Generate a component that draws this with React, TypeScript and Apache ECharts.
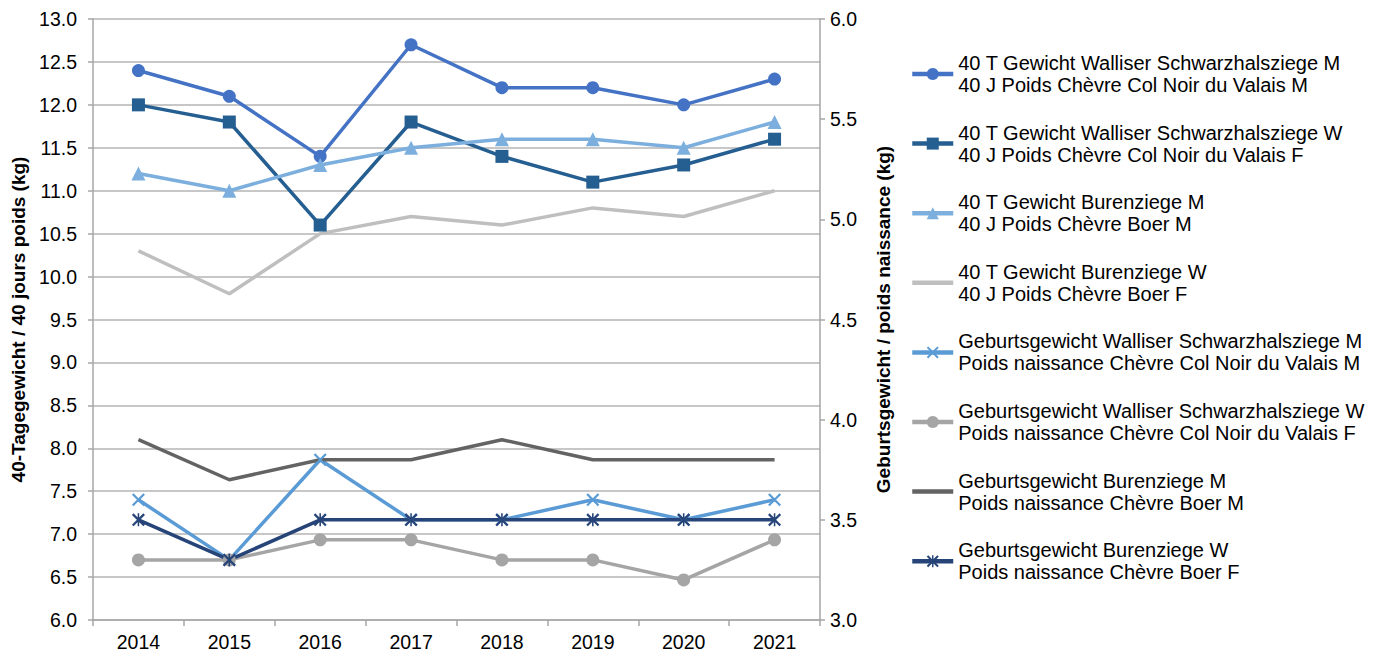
import React, { useEffect, useRef } from "react";
import * as echarts from "echarts";

const years = ["2014", "2015", "2016", "2017", "2018", "2019", "2020", "2021"];

const tg40WalliserM = [12.4, 12.1, 11.4, 12.7, 12.2, 12.2, 12.0, 12.3];
const tg40WalliserW = [12.0, 11.8, 10.6, 11.8, 11.4, 11.1, 11.3, 11.6];
const tg40BurenM = [11.2, 11.0, 11.3, 11.5, 11.6, 11.6, 11.5, 11.8];
const tg40BurenW = [10.3, 9.8, 10.5, 10.7, 10.6, 10.8, 10.7, 11.0];
const gebWalliserM = [3.6, 3.3, 3.8, 3.5, 3.5, 3.6, 3.5, 3.6];
const gebWalliserW = [3.3, 3.3, 3.4, 3.4, 3.3, 3.3, 3.2, 3.4];
const gebBurenM = [3.9, 3.7, 3.8, 3.8, 3.9, 3.8, 3.8, 3.8];
const gebBurenW = [3.5, 3.3, 3.5, 3.5, 3.5, 3.5, 3.5, 3.5];

const names = [
  "40 T Gewicht Walliser Schwarzhalsziege M\n40 J Poids Chèvre Col Noir du Valais M",
  "40 T Gewicht Walliser Schwarzhalsziege W\n40 J Poids Chèvre Col Noir du Valais F",
  "40 T Gewicht Burenziege M\n40 J Poids Chèvre Boer M",
  "40 T Gewicht Burenziege W\n40 J Poids Chèvre Boer F",
  "Geburtsgewicht Walliser Schwarzhalsziege M\nPoids naissance Chèvre Col Noir du Valais M",
  "Geburtsgewicht Walliser Schwarzhalsziege W\nPoids naissance Chèvre Col Noir du Valais F",
  "Geburtsgewicht Burenziege M\nPoids naissance Chèvre Boer M",
  "Geburtsgewicht Burenziege W\nPoids naissance Chèvre Boer F",
];

const leftAxisTitle = "40-Tagegewicht / 40 jours poids (kg)";
const rightAxisTitle = "Geburtsgewicht / poids naissance (kg)";

const FONT = "Liberation Sans, Arial, sans-serif";

const xSymbol =
  "path://M0,1.2 L1.2,0 L10,8.8 L8.8,10 Z M8.8,0 L10,1.2 L1.2,10 L0,8.8 Z";
const starSymbol =
  "path://M0,1.2 L1.2,0 L10,8.8 L8.8,10 Z M8.8,0 L10,1.2 L1.2,10 L0,8.8 Z M4.4,0 L5.6,0 L5.6,10 L4.4,10 Z";

export default function App() {
  const ref = useRef<HTMLDivElement>(null);
  useEffect(() => {
    if (!ref.current) return;
    const chart = echarts.init(ref.current, null, { renderer: "svg" });
    const mk = (
      name: string,
      data: number[],
      color: string,
      yAxisIndex: number,
      symbol: string,
      symbolSize: number
    ) => ({
      name,
      type: "line",
      data,
      yAxisIndex,
      symbol,
      symbolSize,
      showSymbol: symbol !== "none",
      color,
      lineStyle: { color, width: 3.5 },
      itemStyle: { color },
      z: 2,
    });
    const noMarker = [3, 6];
    chart.setOption({
      animation: false,
      textStyle: { fontFamily: FONT },
      grid: { left: 93, right: 558, top: 19, bottom: 35, containLabel: false },
      legend: {
        orient: "vertical",
        left: 910,
        top: 41,
        padding: 0,
        itemWidth: 41,
        itemHeight: 15,
        itemGap: 3.6,
        lineStyle: { width: 4.5 },
        textStyle: {
          fontFamily: FONT,
          fontSize: 20,
          color: "#000",
          lineHeight: 22,
          padding: [22, 0, 0, 0],
        },
        data: names.map((n, i) =>
          noMarker.includes(i) ? { name: n, itemStyle: { opacity: 0 } } : { name: n }
        ),
      },
      xAxis: {
        type: "category",
        data: years,
        boundaryGap: true,
        axisLine: { lineStyle: { color: "#A6A6A6", width: 1.5 } },
        axisTick: { show: true, length: 6, lineStyle: { color: "#A6A6A6", width: 1.5 } },
        axisLabel: { color: "#000", fontSize: 19.5, fontFamily: FONT, margin: 12 },
        splitLine: { show: false },
      },
      yAxis: [
        {
          type: "value",
          min: 6,
          max: 13,
          interval: 0.5,
          position: "left",
          name: leftAxisTitle,
          nameLocation: "middle",
          nameRotate: 90,
          nameGap: 62,
          nameTextStyle: { fontSize: 19, fontWeight: "bold", color: "#000", fontFamily: FONT },
          axisLine: { show: true, lineStyle: { color: "#A6A6A6", width: 1.5 } },
          axisTick: { show: true, length: 5, lineStyle: { color: "#A6A6A6", width: 1.5 } },
          axisLabel: {
            color: "#000",
            fontSize: 19.5,
            fontFamily: FONT,
            margin: 16,
            formatter: (v: number) => v.toFixed(1),
          },
          splitLine: { show: true, lineStyle: { color: "#B4B4B4", width: 1.5 } },
        },
        {
          type: "value",
          min: 3,
          max: 6,
          interval: 0.5,
          position: "right",
          name: rightAxisTitle,
          nameLocation: "middle",
          nameRotate: 90,
          nameGap: 54,
          nameTextStyle: { fontSize: 19, fontWeight: "bold", color: "#000", fontFamily: FONT },
          axisLine: { show: true, lineStyle: { color: "#A6A6A6", width: 1.5 } },
          axisTick: { show: true, length: 5, lineStyle: { color: "#A6A6A6", width: 1.5 } },
          axisLabel: {
            color: "#000",
            fontSize: 19.5,
            fontFamily: FONT,
            margin: 10,
            formatter: (v: number) => v.toFixed(1),
          },
          splitLine: { show: false },
        },
      ],
      series: [
        mk(names[0], tg40WalliserM, "#4472C4", 0, "circle", 13),
        mk(names[1], tg40WalliserW, "#255E91", 0, "rect", 13),
        mk(names[2], tg40BurenM, "#7CAFDD", 0, "triangle", 14),
        mk(names[3], tg40BurenW, "#BFBFBF", 0, "none", 0),
        mk(names[4], gebWalliserM, "#5B9BD5", 1, xSymbol, 13),
        mk(names[5], gebWalliserW, "#A5A5A5", 1, "circle", 13),
        mk(names[6], gebBurenM, "#636363", 1, "none", 0),
        mk(names[7], gebBurenW, "#264478", 1, starSymbol, 13),
      ],
    });
    return () => chart.dispose();
  }, []);
  return (
    <div
      ref={ref}
      style={{ position: "fixed", left: 0, top: 0, width: 1378, height: 655, background: "#fff" }}
    />
  );
}
